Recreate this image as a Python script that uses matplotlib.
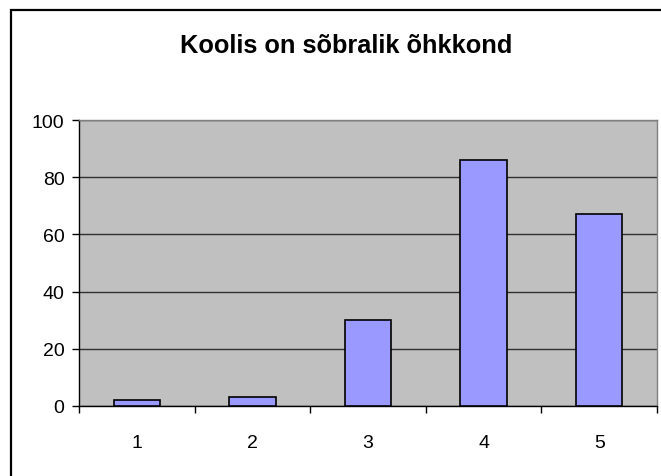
import numpy as np
import matplotlib.pyplot as plt
from matplotlib.patches import Rectangle

# data
categories = ['1', '2', '3', '4', '5']
values = [2, 3, 30, 86, 67]
title = 'Koolis on sõbralik õhkkond'

plt.rcParams['font.family'] = ['Liberation Sans', 'DejaVu Sans']

fig = plt.figure(figsize=(6.61, 4.77), dpi=100)

# outer chart border (cut off at bottom/right in the original)
fig.patches.append(Rectangle((11 / 661, -0.2), 1.2, 1.2 - 11 / 477,
                             transform=fig.transFigure, fill=False,
                             edgecolor='black', linewidth=1.6))

ax = fig.add_axes([79 / 661, 1 - 407 / 477, 578 / 661, 286 / 477])
ax.set_facecolor('#C0C0C0')

x = np.arange(len(categories))
ax.bar(x, values, width=0.4, color='#9999FF', edgecolor='black', linewidth=1.2, zorder=3)

ax.set_xlim(-0.5, len(categories) - 0.5)
ax.set_ylim(0, 100)
ax.set_yticks([0, 20, 40, 60, 80, 100])
ax.yaxis.grid(True, color='#303030', linewidth=1.0, zorder=1)
ax.set_axisbelow(True)

# category ticks between bars, labels centered on bars
ax.set_xticks(np.arange(len(categories) + 1) - 0.5)
ax.set_xticklabels([])
ax.set_xticks(x, minor=True)
ax.set_xticklabels(categories, minor=True)
ax.tick_params(axis='x', which='major', length=5, width=1, color='black', direction='out')
ax.tick_params(axis='x', which='minor', length=0, pad=20, labelsize=14)
ax.tick_params(axis='y', length=5, width=1, color='black', pad=5.5, labelsize=14)

for s in ['left', 'bottom']:
    ax.spines[s].set_color('black')
    ax.spines[s].set_linewidth(1.0)
for s in ['top', 'right']:
    ax.spines[s].set_color('#808080')
    ax.spines[s].set_linewidth(1.0)

fig.text(346 / 661, 1 - 46 / 477, title, ha='center', va='center',
         fontsize=18.3, fontweight='bold')

fig.savefig('out.png', dpi=100)
